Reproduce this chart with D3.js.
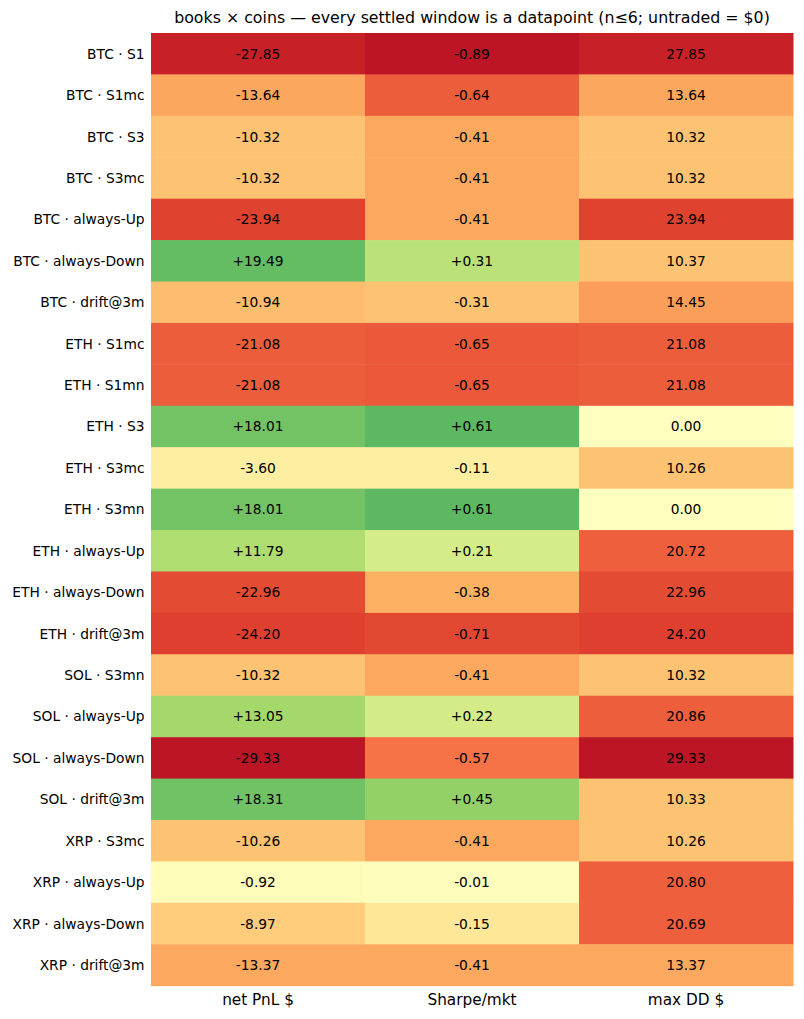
<!DOCTYPE html>
<html>
<head>
<meta charset="utf-8">
<script src="https://cdn.jsdelivr.net/npm/d3@7"></script>
<style>
  html, body { margin: 0; padding: 0; background: #fff; }
  svg text { font-family: "DejaVu Sans", sans-serif; fill: #000; }
</style>
</head>
<body>
<div id="chart"></div>
<script>
// rows of the heatmap (book per coin)
var rowLabels = ["BTC · S1", "BTC · S1mc", "BTC · S3", "BTC · S3mc", "BTC · always-Up", "BTC · always-Down", "BTC · drift@3m",
  "ETH · S1mc", "ETH · S1mn", "ETH · S3", "ETH · S3mc", "ETH · S3mn", "ETH · always-Up", "ETH · always-Down", "ETH · drift@3m",
  "SOL · S3mn", "SOL · always-Up", "SOL · always-Down", "SOL · drift@3m",
  "XRP · S3mc", "XRP · always-Up", "XRP · always-Down", "XRP · drift@3m"];
var colLabels = ["net PnL $", "Sharpe/mkt", "max DD $"];

var netPnl = [-27.85, -13.64, -10.32, -10.32, -23.94, 19.49, -10.94,
  -21.08, -21.08, 18.01, -3.60, 18.01, 11.79, -22.96, -24.20,
  -10.32, 13.05, -29.33, 18.31,
  -10.26, -0.92, -8.97, -13.37];
var sharpe = [-0.89, -0.64, -0.41, -0.41, -0.41, 0.31, -0.31,
  -0.65, -0.65, 0.61, -0.11, 0.61, 0.21, -0.38, -0.71,
  -0.41, 0.22, -0.57, 0.45,
  -0.41, -0.01, -0.15, -0.41];
var maxDD = [27.85, 13.64, 10.32, 10.32, 23.94, 10.37, 14.45,
  21.08, 21.08, 0.00, 10.26, 0.00, 20.72, 22.96, 24.20,
  10.32, 20.86, 29.33, 10.33,
  10.26, 20.80, 20.69, 13.37];

var title = "books × coins — every settled window is a datapoint (n≤6; untraded = $0)";

var W = 804, H = 1019;
var margin = {top: 33, right: 11, bottom: 33.3, left: 151};
var width = W - margin.left - margin.right;
var height = H - margin.top - margin.bottom;

var svg = d3.select("#chart").append("svg")
    .attr("width", W)
    .attr("height", H);

var g = svg.append("g")
    .attr("transform", "translate(" + margin.left + "," + margin.top + ")");

var x = d3.scaleBand().domain(colLabels).range([0, width]).padding(0);
var y = d3.scaleBand().domain(rowLabels).range([0, height]).padding(0);

// RdYlGn, piecewise linear like matplotlib
var rdylgn = ["#a50026", "#d73027", "#f46d43", "#fdae61", "#fee08b", "#ffffbf",
  "#d9ef8b", "#a6d96a", "#66bd63", "#1a9850", "#006837"];
var cmap = d3.scaleLinear()
    .domain(d3.range(11).map(function(i){ return i / 10; }))
    .range(rdylgn)
    .interpolate(d3.interpolateRgb)
    .clamp(true);
// score in [-1,1] (good = green), shown on a slightly wider range
var norm = d3.scaleLinear().domain([-1.1, 1.1]).range([0, 1]);

var columns = [
  {name: colLabels[0], values: netPnl, sign: 1, fmt: d3.format("+.2f")},
  {name: colLabels[1], values: sharpe, sign: 1, fmt: d3.format("+.2f")},
  {name: colLabels[2], values: maxDD, sign: -1, fmt: d3.format(".2f")}
];

var cells = [];
columns.forEach(function(col){
  var m = d3.max(col.values, function(v){ return Math.abs(v); });
  col.values.forEach(function(v, i){
    cells.push({row: rowLabels[i], col: col.name, value: v, score: col.sign * v / m, fmt: col.fmt});
  });
});

g.selectAll("rect.cell")
    .data(cells)
    .enter().append("rect")
    .attr("class", "cell")
    .attr("x", function(d){ return x(d.col); })
    .attr("y", function(d){ return y(d.row); })
    .attr("width", x.bandwidth() + 0.5)
    .attr("height", y.bandwidth() + 0.5)
    .style("fill", function(d){ return cmap(norm(d.score)); });

g.selectAll("text.val")
    .data(cells)
    .enter().append("text")
    .attr("class", "val")
    .attr("x", function(d){ return x(d.col) + x.bandwidth() / 2; })
    .attr("y", function(d){ return y(d.row) + y.bandwidth() / 2; })
    .attr("dy", "0.36em")
    .attr("text-anchor", "middle")
    .style("font-size", "13.8px")
    .text(function(d){ return d.fmt(d.value).replace("−", "-"); });

var yAxis = d3.axisLeft(y).tickSize(0).tickPadding(6.5);
var gy = g.append("g").call(yAxis);
gy.select(".domain").remove();
gy.selectAll("text").style("font-size", "13.8px").attr("dy", "0.36em");

var xAxis = d3.axisBottom(x).tickSize(0).tickPadding(8);
var gx = g.append("g").attr("transform", "translate(0," + height + ")").call(xAxis);
gx.select(".domain").remove();
gx.selectAll("text").style("font-size", "15.3px");

svg.append("text")
    .attr("x", margin.left + width / 2)
    .attr("y", 23)
    .attr("text-anchor", "middle")
    .style("font-size", "15.8px")
    .text(title);
</script>
</body>
</html>
